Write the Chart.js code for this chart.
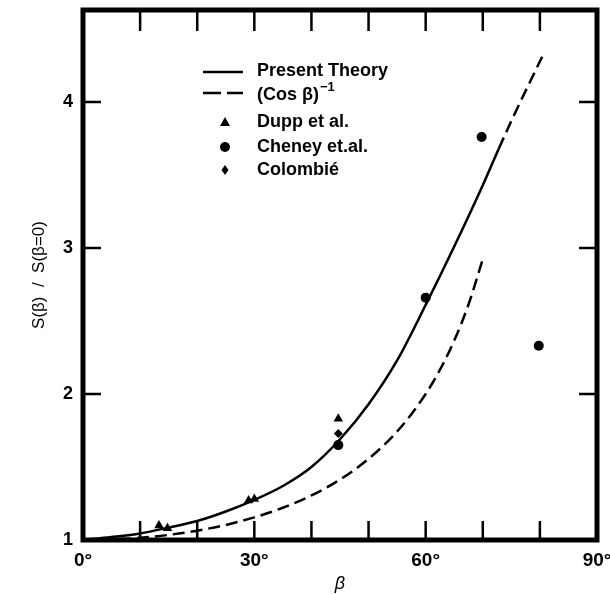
<!DOCTYPE html>
<html>
<head>
<meta charset="utf-8">
<script src="https://cdn.jsdelivr.net/npm/chart.js@4.4.0/dist/chart.umd.min.js"></script>
<style>
  html, body { margin: 0; padding: 0; background: #fff; }
  #wrap { width: 610px; height: 595px; }
</style>
</head>
<body>
<div id="wrap"><canvas id="chart"></canvas></div>
<script>
// beta in degrees, S(beta)/S(beta=0)
const theoryAngles = [0, 5, 10, 15, 20, 25, 30, 35, 40, 45, 50, 55, 60, 65, 70, 72.8, 75, 80.4];
const theoryValues = [1.00, 1.02, 1.045, 1.085, 1.13, 1.195, 1.275, 1.37, 1.50, 1.69, 1.93, 2.23, 2.61, 3.01, 3.43, 3.68, 3.87, 4.31];
const theorySolidEnd = 72.8; // dashed beyond this angle

const cosAngles = [0, 5, 10, 15, 20, 25, 30, 35, 40, 45, 50, 55, 60, 62.5, 65, 67.5, 70];
const cosValues = [1.000, 1.004, 1.015, 1.035, 1.064, 1.103, 1.155, 1.221, 1.305, 1.414, 1.556, 1.743, 2.000, 2.166, 2.366, 2.613, 2.924];

const duppAngles = [13.3, 14.8, 29.0, 30.0, 44.7];
const duppValues = [1.10, 1.08, 1.27, 1.28, 1.83];
const cheneyAngles = [44.7, 60.0, 69.8, 79.8];
const cheneyValues = [1.65, 2.66, 3.76, 2.33];
const colombieAngles = [44.7];
const colombieValues = [1.73];

const xMinorTicks = [10, 20, 30, 40, 50, 60, 70, 80];
const yInnerTicks = [2, 3, 4];

const pts = (xs, ys) => xs.map((x, i) => ({ x: x, y: ys[i] }));

// box frame, inward ticks and the legend block
const frame = {
    id: 'frame',
    afterDraw(chart) {
        const { ctx, chartArea: a, scales: { x, y } } = chart;
        ctx.save();
        ctx.strokeStyle = '#000';
        ctx.fillStyle = '#000';
        ctx.lineWidth = 5;
        ctx.strokeRect(a.left, a.top, a.right - a.left, a.bottom - a.top);

        ctx.lineWidth = 2.5;
        ctx.beginPath();
        xMinorTicks.forEach(v => {
            const px = x.getPixelForValue(v);
            ctx.moveTo(px, a.bottom); ctx.lineTo(px, a.bottom - 19);
            ctx.moveTo(px, a.top); ctx.lineTo(px, a.top + 21);
        });
        yInnerTicks.forEach(v => {
            const py = y.getPixelForValue(v);
            ctx.moveTo(a.left, py); ctx.lineTo(a.left + 18, py);
            ctx.moveTo(a.right, py); ctx.lineTo(a.right - 18, py);
        });
        ctx.stroke();

        // legend
        const lx = 203, mx = 225, tx = 257;
        ctx.lineWidth = 2.5;
        ctx.beginPath();
        ctx.moveTo(lx, 72); ctx.lineTo(lx + 40, 72);
        ctx.moveTo(lx, 93); ctx.lineTo(lx + 18, 93);
        ctx.moveTo(lx + 24, 93); ctx.lineTo(lx + 40, 93);
        ctx.stroke();

        ctx.beginPath();
        ctx.moveTo(mx, 117); ctx.lineTo(mx + 5, 126); ctx.lineTo(mx - 5, 126);
        ctx.closePath(); ctx.fill();
        ctx.beginPath();
        ctx.arc(mx, 147, 5, 0, Math.PI * 2); ctx.fill();
        ctx.beginPath();
        ctx.moveTo(mx, 165); ctx.lineTo(mx + 3.5, 170); ctx.lineTo(mx, 175); ctx.lineTo(mx - 3.5, 170);
        ctx.closePath(); ctx.fill();

        ctx.font = 'bold 18px "Liberation Sans", Arial, sans-serif';
        ctx.textBaseline = 'middle';
        ctx.textAlign = 'left';
        ctx.fillText('Present Theory', tx, 71);
        ctx.fillText('(Cos β)', tx, 95);
        const w = ctx.measureText('(Cos β)').width;
        ctx.font = 'bold 13px "Liberation Sans", Arial, sans-serif';
        ctx.fillText('−1', tx + w + 1, 87);
        ctx.font = 'bold 18px "Liberation Sans", Arial, sans-serif';
        ctx.fillText('Dupp et al.', tx, 122);
        ctx.fillText('Cheney et.al.', tx, 147);
        ctx.fillText('Colombié', tx, 170);
        ctx.restore();
    }
};

new Chart(document.getElementById('chart'), {
    type: 'scatter',
    data: {
        datasets: [
            {
                label: 'Present Theory',
                data: pts(theoryAngles, theoryValues),
                showLine: true,
                borderColor: '#000',
                borderWidth: 2.5,
                pointRadius: 0,
                cubicInterpolationMode: 'monotone',
                segment: {
                    borderDash: c => c.p0.parsed.x >= theorySolidEnd ? [12, 6] : undefined
                }
            },
            {
                label: '(Cos β)^-1',
                data: pts(cosAngles, cosValues),
                showLine: true,
                borderColor: '#000',
                borderWidth: 2.5,
                borderDash: [12, 6],
                pointRadius: 0,
                cubicInterpolationMode: 'monotone'
            },
            {
                label: 'Dupp et al.',
                data: pts(duppAngles, duppValues),
                pointStyle: 'triangle',
                pointRadius: 5.5,
                backgroundColor: '#000',
                borderColor: '#000',
                borderWidth: 0
            },
            {
                label: 'Cheney et.al.',
                data: pts(cheneyAngles, cheneyValues),
                pointStyle: 'circle',
                pointRadius: 5,
                backgroundColor: '#000',
                borderColor: '#000',
                borderWidth: 0
            },
            {
                label: 'Colombié',
                data: pts(colombieAngles, colombieValues),
                pointStyle: 'rectRot',
                pointRadius: 4.5,
                backgroundColor: '#000',
                borderColor: '#000',
                borderWidth: 0
            }
        ]
    },
    options: {
        responsive: true,
        maintainAspectRatio: false,
        animation: false,
        layout: { padding: { top: 10, right: 13, bottom: 0, left: 0 } },
        plugins: {
            legend: { display: false },
            tooltip: { enabled: false }
        },
        scales: {
            x: {
                type: 'linear',
                min: 0,
                max: 90,
                afterFit: s => { s.height = 55; s.paddingLeft = 0; s.paddingRight = 0; },
                grid: { display: false, drawTicks: false },
                border: { display: false },
                ticks: {
                    stepSize: 30,
                    padding: 9,
                    color: '#000',
                    font: { family: '"Liberation Sans", Arial, sans-serif', size: 19, weight: 'bold' },
                    callback: v => v + '°'
                },
                title: {
                    display: true,
                    text: 'β',
                    color: '#000',
                    padding: { top: 0, bottom: 0 },
                    font: { family: '"Liberation Sans", Arial, sans-serif', size: 18, style: 'italic' }
                }
            },
            y: {
                type: 'linear',
                min: 1,
                max: 4.63,
                afterFit: s => { s.width = 83; s.paddingTop = 0; s.paddingBottom = 0; },
                grid: { display: false, drawTicks: false },
                border: { display: false },
                ticks: {
                    stepSize: 1,
                    includeBounds: false,
                    padding: 10,
                    color: '#000',
                    font: { family: '"Liberation Sans", Arial, sans-serif', size: 18, weight: 'bold' },
                    callback: v => Number.isInteger(v) ? v : ''
                },
                title: {
                    display: true,
                    text: 'S(β)  /  S(β=0)',
                    color: '#000',
                    padding: { top: 29, bottom: 0 },
                    font: { family: '"Liberation Sans", Arial, sans-serif', size: 17 }
                }
            }
        }
    },
    plugins: [frame]
});
</script>
</body>
</html>
